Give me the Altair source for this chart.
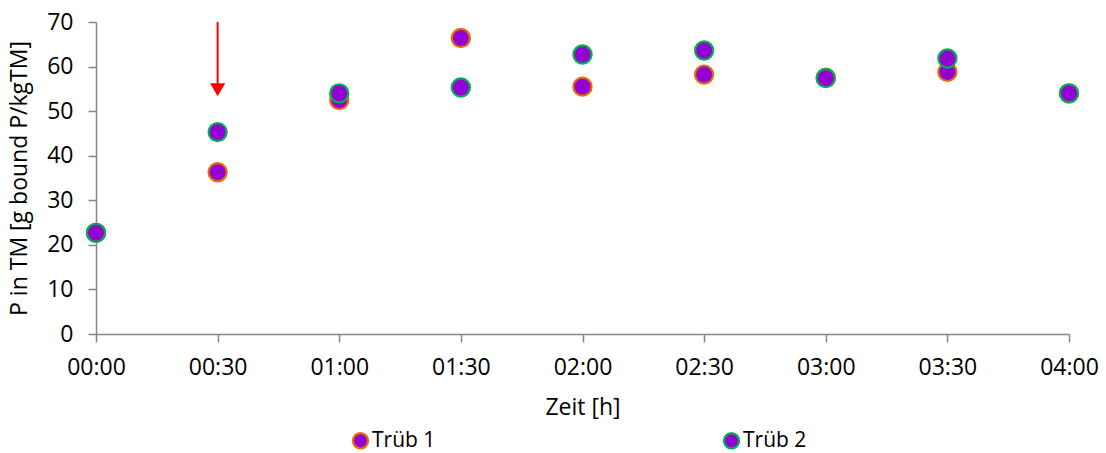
import altair as alt
import pandas as pd

minutes = [0, 30, 60, 90, 120, 150, 180, 210, 240]
trueb1 = [22.7, 36.3, 52.5, 66.4, 55.5, 58.2, 57.5, 58.8, 54.0]
trueb2 = [22.7, 45.3, 54.0, 55.3, 62.7, 63.6, 57.4, 61.8, 54.0]
series_names = ["Trüb 1", "Trüb 2"]
stroke_colors = ["#E36C09", "#00B050"]
fill_color = "#9400D3"

arrow_x = [30]
arrow_top = [70]
arrow_bottom = [55.8]
arrow_head = [54.8]

rows = []
for i, m in enumerate(minutes):
    rows.append({"t": m, "v": trueb1[i], "s": series_names[0], "o": 0})
for i, m in enumerate(minutes):
    rows.append({"t": m, "v": trueb2[i], "s": series_names[1], "o": 1})
df = pd.DataFrame(rows)

FONT = "Open Sans"

x_scale = alt.Scale(domain=[0, 240], nice=False, zero=False)
y_scale = alt.Scale(domain=[0, 70], nice=False)

points = alt.Chart(df).mark_circle(size=330, opacity=1, strokeWidth=2.2, fill=fill_color).encode(
    x=alt.X("t:Q", scale=x_scale,
            axis=alt.Axis(title="Zeit [h]", values=minutes, grid=False, labelFlush=False,
                          labelExpr="(floor(datum.value/60) < 10 ? '0' : '') + floor(datum.value/60) + ':' + (datum.value % 60 < 10 ? '0' : '') + (datum.value % 60)",
                          labelPadding=14, titlePadding=17, tickSize=8)),
    y=alt.Y("v:Q", scale=y_scale,
            axis=alt.Axis(title="P in TM [g bound P/kgTM]", values=[0, 10, 20, 30, 40, 50, 60, 70],
                          grid=False, tickSize=8, labelPadding=15, titlePadding=15, labelFlush=False)),
    stroke=alt.Stroke("s:N", scale=alt.Scale(domain=series_names, range=stroke_colors),
                      legend=alt.Legend(title=None, orient="none", legendX=254, legendY=408,
                                        direction="horizontal", columns=2, columnPadding=283,
                                        symbolType="circle", symbolSize=230, symbolFillColor=fill_color,
                                        symbolStrokeWidth=2.2, labelFontSize=21, labelFont=FONT,
                                        labelColor="#000000", labelOffset=1)),
    order=alt.Order("o:Q"),
)

arrow_df = pd.DataFrame({"x": arrow_x, "top": arrow_top, "bottom": arrow_bottom, "head": arrow_head})
arrow_line = alt.Chart(arrow_df).mark_rule(color="#FF0000", strokeWidth=2).encode(
    x=alt.X("x:Q", scale=x_scale), y=alt.Y("top:Q", scale=y_scale), y2="bottom:Q")
arrow_tip = alt.Chart(arrow_df).mark_point(shape="triangle-down", filled=True, color="#FF0000",
                                           size=230, opacity=1).encode(
    x=alt.X("x:Q", scale=x_scale), y=alt.Y("head:Q", scale=y_scale))

chart = alt.layer(arrow_line, arrow_tip, points).properties(
    width=973, height=312,
    background="white",
    autosize=alt.AutoSizeParams(type="none"),
    padding={"left": 96, "top": 22, "right": 37, "bottom": 119},
).configure_view(stroke=None).configure_axis(
    labelFont=FONT, titleFont=FONT, labelFontSize=23, titleFontSize=23,
    labelColor="#000000", titleColor="#000000", titleFontWeight="normal",
    domainColor="#868686", tickColor="#868686", domainWidth=1.5, tickWidth=1.5,
)

chart.save("out.html", embed_options={"renderer": "svg", "actions": False})
